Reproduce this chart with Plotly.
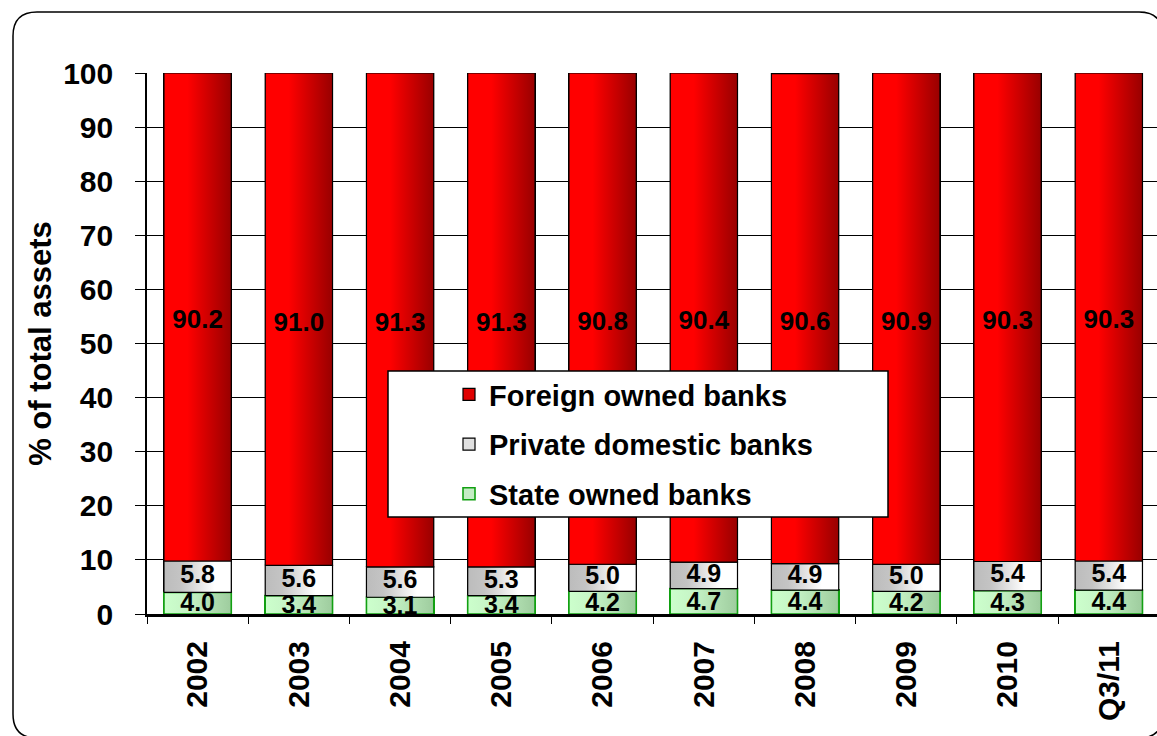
import plotly.graph_objects as go

# Ownership structure of the banking sector, % of total assets
periods = ["2002", "2003", "2004", "2005", "2006", "2007", "2008", "2009", "2010", "Q3/11"]
state_owned = [4.0, 3.4, 3.1, 3.4, 4.2, 4.7, 4.4, 4.2, 4.3, 4.4]
private_domestic = [5.8, 5.6, 5.6, 5.3, 5.0, 4.9, 4.9, 5.0, 5.4, 5.4]
foreign_owned = [90.2, 91.0, 91.3, 91.3, 90.8, 90.4, 90.6, 90.9, 90.3, 90.3]
y_ticks = [0, 10, 20, 30, 40, 50, 60, 70, 80, 90, 100]

FONT = "Liberation Sans, Arial, sans-serif"
W, H = 1157, 736
ML, MR, MT, MB = 147, 0, 73, 122
PW, PH = W - ML - MR, H - MT - MB
BAR_W = 0.665
X_MAX = 9.476
PX_TO_VAL = 100 / PH  # one pixel expressed in axis units

series = [
    dict(name="State owned banks", values=state_owned, solid="#c4ecc4", rank=3,
         line="#12a012", lw=1.6, label_size=25, label_drop=2,
         scale=[[0, "#ccffcc"], [0.35, "#c6f4c6"], [1, "#9ecc9e"]]),
    dict(name="Private domestic banks", values=private_domestic, solid="#e0e0e0", rank=2,
         line="#000000", lw=1.2, label_size=25, label_drop=0,
         scale=[[0, "#bcbcbc"], [0.25, "#c4c4c4"], [0.75, "#ffffff"], [1, "#ffffff"]]),
    dict(name="Foreign owned banks", values=foreign_owned, solid="#e00000", rank=1,
         line="#000000", lw=1.2, label_size=26, label_drop=5,
         scale=[[0, "#ff0000"], [0.35, "#ff0000"], [1, "#980000"]]),
]

xs = list(range(len(periods)))
fig = go.Figure()

# stacked bars (legend + base fill)
for s in series:
    fig.add_trace(go.Bar(
        x=xs, y=s["values"], name=s["name"], width=BAR_W,
        marker=dict(color=s["solid"], line=dict(color=s["line"], width=s["lw"])),
        legendgroup=s["name"], legendrank=s["rank"], hoverinfo="skip",
    ))

# gradient shading over each stacked segment
bases = [0.0] * len(periods)
label_pos = []
for s in series:
    mids = []
    for i, v in enumerate(s["values"]):
        y0 = bases[i]
        y1 = min(bases[i] + v, 100.0)
        x0, x1 = i - BAR_W / 2, i + BAR_W / 2
        fig.add_trace(go.Scatter(
            x=[x0, x1, x1, x0, x0], y=[y0, y0, y1, y1, y0],
            mode="lines", fill="toself",
            fillgradient=dict(type="horizontal", colorscale=s["scale"], start=x0, stop=x1),
            line=dict(color=s["line"], width=s["lw"]),
            showlegend=False, hoverinfo="skip", legendgroup=s["name"],
        ))
        mids.append((y0 + y1) / 2 - s["label_drop"] * PX_TO_VAL)
        bases[i] += v
    label_pos.append(mids)

# value labels centred in each segment
for s, mids in zip(series, label_pos):
    fig.add_trace(go.Scatter(
        x=xs, y=mids, mode="text",
        text=[f"{v:.1f}" for v in s["values"]],
        textfont=dict(family=FONT, size=s["label_size"], color="#000000", weight="bold"),
        showlegend=False, hoverinfo="skip",
    ))


def px_x(px):
    return (px - ML) / PW


def px_y(py):
    return (H - MB - py) / PH


# rounded chart frame
fl, ft, fr, fb, rad = 13, 12, 1163, 738, 24
frame = (
    f"M {px_x(fl + rad)},{px_y(ft)} L {px_x(fr - rad)},{px_y(ft)} "
    f"Q {px_x(fr)},{px_y(ft)} {px_x(fr)},{px_y(ft + rad)} "
    f"L {px_x(fr)},{px_y(fb - rad)} Q {px_x(fr)},{px_y(fb)} {px_x(fr - rad)},{px_y(fb)} "
    f"L {px_x(fl + rad)},{px_y(fb)} Q {px_x(fl)},{px_y(fb)} {px_x(fl)},{px_y(fb - rad)} "
    f"L {px_x(fl)},{px_y(ft + rad)} Q {px_x(fl)},{px_y(ft)} {px_x(fl + rad)},{px_y(ft)} Z"
)

shapes = [
    dict(type="path", xref="paper", yref="paper", path=frame,
         line=dict(color="#000000", width=1.5), layer="below"),
    # legend box
    dict(type="rect", xref="paper", yref="paper",
         x0=px_x(388), x1=px_x(888), y0=px_y(517), y1=px_y(371),
         fillcolor="#ffffff", line=dict(color="#000000", width=1.5), layer="above"),
]

fig.update_layout(
    width=W, height=H,
    margin=dict(l=ML, r=MR, t=MT, b=MB, pad=0),
    barmode="stack",
    paper_bgcolor="#ffffff", plot_bgcolor="#ffffff",
    font=dict(family=FONT, color="#000000"),
    shapes=shapes,
    showlegend=True,
    legend=dict(
        x=px_x(449), y=px_y(369), xanchor="left", yanchor="top",
        bgcolor="rgba(0,0,0,0)", borderwidth=0,
        traceorder="grouped", tracegroupgap=9,
        font=dict(family=FONT, size=29, color="#000000", weight="bold"),
    ),
    xaxis=dict(
        range=[-0.5, X_MAX], tickmode="array", tickvals=xs, ticktext=periods,
        ticks="", tickangle=-90, ticklabelstandoff=12,
        tickfont=dict(family=FONT, size=30, color="#000000", weight="bold"),
        showgrid=False, zeroline=False,
        showline=True, linecolor="#000000", linewidth=3,
        minor=dict(tickmode="array", tickvals=[i - 0.5 for i in range(len(periods) + 1)],
                   ticks="outside", ticklen=7, tickwidth=1.3, tickcolor="#000000",
                   showgrid=False),
    ),
    yaxis=dict(
        range=[0, 100], tickmode="array", tickvals=y_ticks,
        ticks="outside", ticklen=10, tickwidth=1.3, tickcolor="#000000",
        ticklabelstandoff=16,
        tickfont=dict(family=FONT, size=30, color="#000000", weight="bold"),
        showgrid=True, gridcolor="#000000", gridwidth=1.2,
        zeroline=False,
        showline=True, linecolor="#000000", linewidth=1.6,
        title=dict(text="% of total assets", standoff=2,
                   font=dict(family=FONT, size=31, color="#000000", weight="bold")),
    ),
)

fig.write_html("out.html")
